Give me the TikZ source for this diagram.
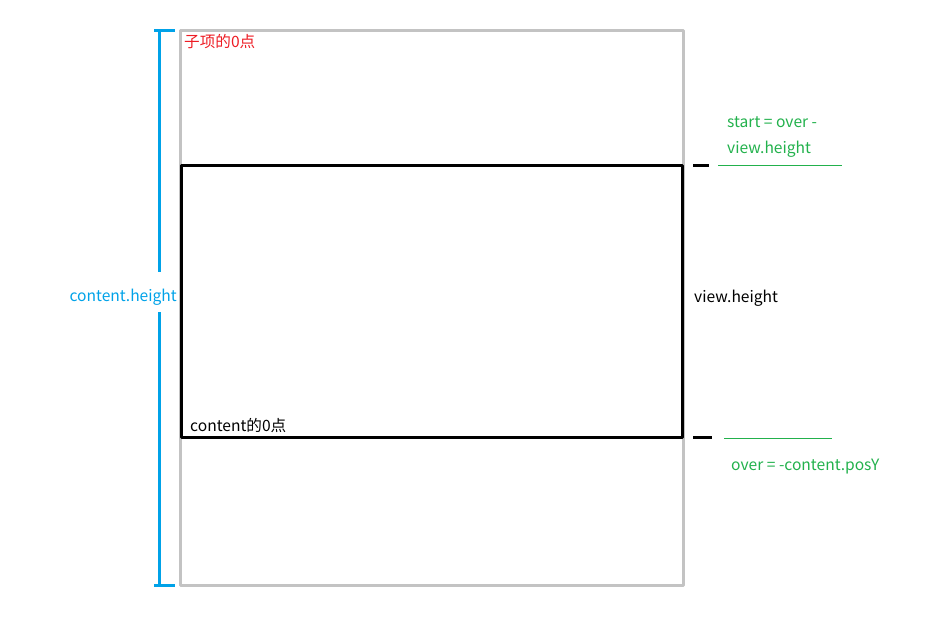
\documentclass[tikz,border=0pt]{standalone}
\usepackage{fontspec}
\setmainfont{Noto Sans CJK SC}
\definecolor{lgray}{HTML}{C3C3C3}
\definecolor{cblue}{HTML}{00A2E8}
\definecolor{tgreen}{HTML}{22B14C}
\definecolor{tred}{HTML}{ED1C24}
\begin{document}
\begin{tikzpicture}[x=1pt,y=-1pt,line join=round,font=\fontsize{15.6}{26}\selectfont,
  frame/.style={draw=lgray,line width=3pt},
  viewbox/.style={draw=black,line width=3pt},
  bar/.style={draw=cblue,line width=3pt},
  tick/.style={draw=black,line width=3pt},
  mark line/.style={draw=tgreen,line width=1pt}]
\useasboundingbox (0,0) rectangle (937,622);
\draw[frame] (180,30) rectangle (683,585);
\draw[viewbox] (181,165) rectangle (682,437);
\node[anchor=north west,text=tred,inner sep=0pt] (sub0) at (184,34) {子项的0点};
\node[anchor=west,inner sep=0pt] (con0) at (190,426) {content的0点};
% content.height
\path (159,30) coordinate (ctop) (159,585) coordinate (cbot);
\node[text=cblue,anchor=east,inner sep=0pt] (ch) at (177,297) {content.height};
\draw[bar] (ctop)--++(0,242) (cbot)--++(0,-273);
\draw[bar] ([xshift=-5]ctop)--++(21,0) ([xshift=-5]cbot)--++(21,0);
% view.height
\node[anchor=west,inner sep=0pt] (vh) at (694,298) {view.height};
\draw[tick] (693,165)--++(16,0) (693,437)--++(19,0);
\draw[mark line] (718,165) coordinate (s1)--(842,165) coordinate (s2);
\draw[mark line] (724,438) coordinate (o1)--(832,438) coordinate (o2);
\node[anchor=west,align=left,text=tgreen,inner sep=0pt] (start) at (727,137) {start = over -\\view.height};
\node[anchor=west,text=tgreen,inner sep=0pt] (over) at (731,467) {over = -content.posY};
\end{tikzpicture}
\end{document}
